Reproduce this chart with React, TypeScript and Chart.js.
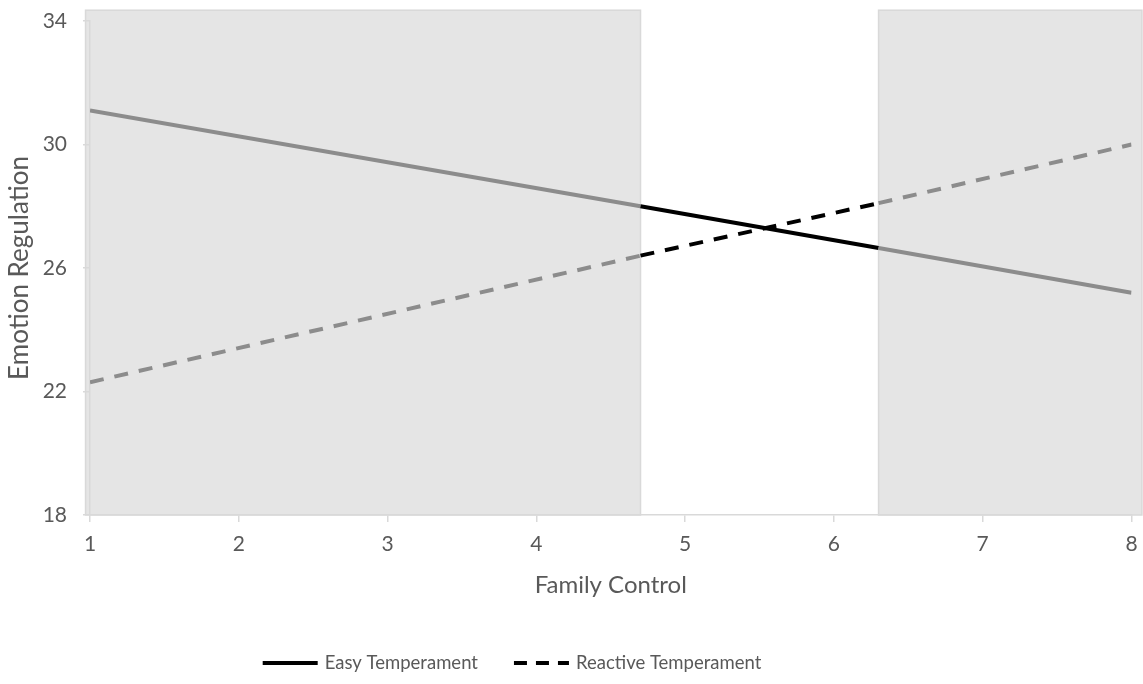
import React, { useEffect, useRef } from "react";
import { Chart, registerables } from "chart.js";

Chart.register(...registerables);

// ---- data ----
const xValues = [1, 4.7, 6.3, 8];
const easyValues = [31.1, 28.0, 26.65, 25.2];
const reactiveValues = [22.3, 26.4, 28.1, 30.0];
const seriesLabels = ["Easy Temperament", "Reactive Temperament"];
const shadedRegions = [
  [0.97, 4.7],
  [6.3, 8.07],
];
const shadedTop = 34.35;
const xTitle = "Family Control";
const yTitle = "Emotion Regulation";

const FONT = "Lato, 'Open Sans', sans-serif";
const TICK_SIZE = 21;
const LEGEND_SIZE = 18.5;
const TEXT_COLOR = "#595959";
const GRAY = "#8c8c8c";
const AXIS_COLOR = "#d9d9d9";
const DASH = [14, 11];
const LINE_W = 4;

const inShade = (x: number) => shadedRegions.some(([a, b]) => x > a && x < b);

const shadePlugin = {
  id: "shade",
  beforeDraw(chart: any) {
    const { ctx, scales } = chart;
    const xs = scales.x;
    const ys = scales.y;
    ctx.save();
    shadedRegions.forEach(([a, b]) => {
      const x0 = xs.getPixelForValue(a);
      const x1 = xs.getPixelForValue(b);
      const y0 = ys.getPixelForValue(shadedTop);
      const y1 = ys.getPixelForValue(ys.min);
      ctx.fillStyle = "#e5e5e5";
      ctx.fillRect(x0, y0, x1 - x0, y1 - y0);
      ctx.strokeStyle = AXIS_COLOR;
      ctx.lineWidth = 1.5;
      ctx.strokeRect(x0, y0, x1 - x0, y1 - y0);
    });
    ctx.restore();
  },
};

const legendPlugin = {
  id: "customLegend",
  afterDraw(chart: any) {
    const ctx = chart.ctx;
    ctx.save();
    ctx.font = `${LEGEND_SIZE}px ${FONT}`;
    ctx.textBaseline = "middle";
    const lineW = 55;
    const gapText = 7;
    const gapItem = 36;
    const widths = seriesLabels.map((l) => ctx.measureText(l).width);
    const total = widths.reduce((s, w) => s + w + lineW + gapText, 0) + gapItem * (seriesLabels.length - 1);
    let x = 512 - total / 2;
    const y = 663;
    seriesLabels.forEach((label, i) => {
      ctx.beginPath();
      ctx.setLineDash(i === 0 ? [] : [13, 9]);
      ctx.strokeStyle = "#000";
      ctx.lineWidth = LINE_W;
      ctx.moveTo(x, y);
      ctx.lineTo(x + lineW, y);
      ctx.stroke();
      ctx.setLineDash([]);
      x += lineW + gapText;
      ctx.fillStyle = TEXT_COLOR;
      ctx.fillText(label, x, y);
      x += widths[i] + gapItem;
    });
    ctx.restore();
  },
};

const segColor = (c: any) => {
  const mid = (c.p0.parsed.x + c.p1.parsed.x) / 2;
  return inShade(mid) ? GRAY : "#000000";
};

export default function App() {
  const ref = useRef<HTMLCanvasElement | null>(null);
  useEffect(() => {
    if (!ref.current) return;
    const chart = new Chart(ref.current, {
      type: "line",
      data: {
        datasets: [
          {
            label: seriesLabels[0],
            data: xValues.map((x, i) => ({ x, y: easyValues[i] })),
            borderColor: "#000",
            borderWidth: LINE_W,
            pointRadius: 0,
            segment: { borderColor: segColor },
          },
          {
            label: seriesLabels[1],
            data: xValues.map((x, i) => ({ x, y: reactiveValues[i] })),
            borderColor: "#000",
            borderWidth: LINE_W,
            borderDash: DASH,
            pointRadius: 0,
            segment: { borderColor: segColor },
          },
        ],
      },
      options: {
        animation: false,
        responsive: true,
        maintainAspectRatio: false,
        layout: { padding: { top: 21, right: 11.5, bottom: 60, left: 0 } },
        plugins: { legend: { display: false }, tooltip: { enabled: false } },
        scales: {
          x: {
            type: "linear",
            min: 1,
            max: 8,
            ticks: { stepSize: 1, color: TEXT_COLOR, font: { family: FONT, size: TICK_SIZE }, padding: 10 },
            grid: { drawOnChartArea: false, color: AXIS_COLOR, tickLength: 7, lineWidth: 1.5 },
            border: { color: AXIS_COLOR, width: 1.5 },
            title: {
              display: true,
              text: xTitle,
              color: TEXT_COLOR,
              font: { family: FONT, size: 24 },
              padding: { top: 0, bottom: 24 },
            },
            afterFit: (s: any) => {
              s.height = 109;
              s.paddingLeft = 0;
              s.paddingRight = 0;
            },
          },
          y: {
            type: "linear",
            min: 18,
            max: 34,
            ticks: { stepSize: 4, color: TEXT_COLOR, font: { family: FONT, size: TICK_SIZE }, padding: 16 },
            grid: { drawOnChartArea: false, color: AXIS_COLOR, tickLength: 7, lineWidth: 1.5 },
            border: { color: AXIS_COLOR, width: 1.5 },
            title: {
              display: true,
              text: yTitle,
              color: TEXT_COLOR,
              font: { family: FONT, size: 26 },
              padding: { top: 4, bottom: 0 },
            },
            afterFit: (s: any) => {
              s.width = 90;
              s.paddingTop = 0;
              s.paddingBottom = 0;
            },
          },
        },
      },
      plugins: [shadePlugin, legendPlugin],
    } as any);
    return () => chart.destroy();
  }, []);
  return (
    <div style={{ position: "absolute", left: 0, top: 0, width: 1143, height: 684 }}>
      <canvas ref={ref} />
    </div>
  );
}
